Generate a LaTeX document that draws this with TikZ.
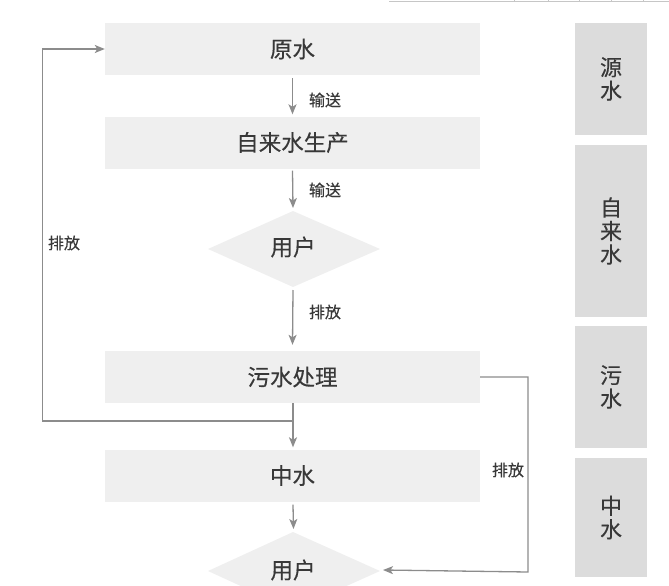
\documentclass[tikz,border=0pt]{standalone}
\usepackage{fontspec}
\setmainfont{Noto Sans CJK SC}[FakeBold=0.35]
\usetikzlibrary{arrows.meta}
\definecolor{boxfill}{HTML}{EFEFEF}
\definecolor{sidefill}{HTML}{DCDCDC}
\definecolor{txt}{HTML}{383838}
\definecolor{arrcol}{HTML}{8C8C8C}
\tikzset{
  mainbox/.style={rectangle, fill=boxfill, minimum width=375pt, minimum height=52pt, inner sep=0pt, text=txt, font=\fontsize{22.5pt}{24pt}\selectfont},
  sidebox/.style={rectangle, fill=sidefill, minimum width=72pt, inner sep=0pt, text=txt, align=center, font=\fontsize{22pt}{23.5pt}\selectfont},
  lbl/.style={text=txt, font=\fontsize{16pt}{18pt}\selectfont, inner sep=0pt},
  dtext/.style={text=txt, font=\fontsize{22.5pt}{24pt}\selectfont, inner sep=0pt},
  arr/.style={draw=arrcol, line width=1.3pt, -{Stealth[length=10pt,width=8pt,inset=2.5pt]}},
}
\begin{document}
\begin{tikzpicture}[x=1pt,y=-1pt]
\useasboundingbox (0,0) rectangle (669,586);
% faint table border at top right
\draw[gray!45, line width=0.7pt] (389,1) -- (669,1);
\foreach \xx in {514,548,579,611,643}{\draw[gray!45, line width=0.5pt] (\xx,0) -- (\xx,2);}
% main boxes
\node[mainbox] (ys) at (292.5,49) {原水};
\node[mainbox] (zls) at (292.5,142.5) {自来水生产};
\fill[boxfill] (208,249) -- (293,211) -- (380,249) -- (293,287) -- cycle;
\node[dtext] (yh1) at (293,247) {用户};
\coordinate (yh1t) at (293,211);
\coordinate (yh1b) at (293,287);
\node[mainbox] (ws) at (292.5,377) {污水处理};
\node[mainbox] (zs) at (292.5,475.5) {中水};
\fill[boxfill] (208,571) -- (293,532) -- (380,571) -- (293,610) -- cycle;
\node[dtext] (yh2) at (293,570) {用户};
\coordinate (yh2t) at (293,532);
\coordinate (yh2r) at (380,571);
% side column
\node[sidebox, minimum height=112pt] (s1) at (611,79) {源\\水};
\node[sidebox, minimum height=172pt] (s2) at (611,231) {自\\来\\水};
\node[sidebox, minimum height=122pt] (s3) at (611,387) {污\\水};
\node[sidebox, minimum height=119pt] (s4) at (611,517.5) {中\\水};
% arrows
\draw[arr] ([yshift=-3pt]ys.south) -- ([yshift=2pt]zls.north);
\node[lbl] (l1) at (325,100) {输送};
\draw[arr] ([yshift=-2pt]zls.south) -- ([yshift=3pt]yh1t);
\node[lbl] (l2) at (325,190) {输送};
\draw[arr] ([yshift=-3pt]yh1b) -- ([yshift=6pt]ws.north);
\node[lbl] (l3) at (325,312) {排放};
\coordinate (j) at (293,421);
\draw[arr] ([xshift=0.5pt]ws.south) -- ([xshift=0.5pt,yshift=2pt]zs.north);
\draw[arr] (j) -- (42.5,421) -- (42.5,49) -- (ys.west);
\node[lbl] (l4) at (64,243) {排放};
\draw[arr] ([xshift=0.5pt,yshift=-3pt]zs.south) -- ([xshift=0.5pt,yshift=3pt]yh2t);
\draw[arr] (ws.east) -- (528,377) -- (528,572) -- ([xshift=3pt,yshift=1pt]yh2r);
\node[lbl] (l5) at (508,470) {排放};
\end{tikzpicture}
\end{document}
